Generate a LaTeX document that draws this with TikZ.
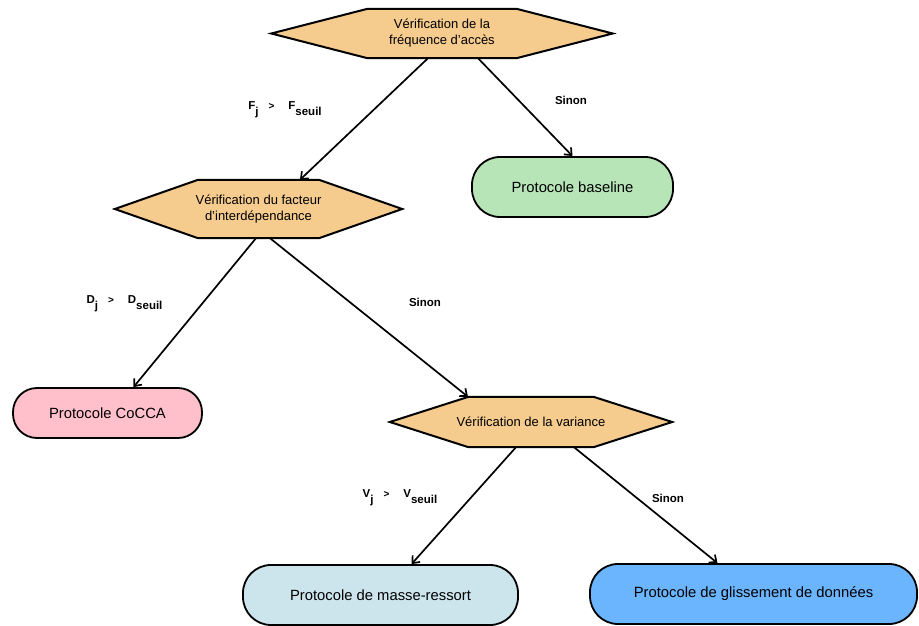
\documentclass[tikz,border=0pt]{standalone}
\usepackage{fontspec}
\setmainfont{Liberation Sans}
\usetikzlibrary{backgrounds,arrows.meta}
\definecolor{hexc}{HTML}{F5CB8E}
\definecolor{greenc}{HTML}{B8E5B8}
\definecolor{pinkc}{HTML}{FFC0CB}
\definecolor{lbluec}{HTML}{CCE4EB}
\definecolor{bluec}{HTML}{6BB5FF}
\newcommand\hexoutline[2]{%
  \begin{pgfonlayer}{background}
  \draw[hexshape] (#1.west) -- ([xshift=-#2pt]#1.north) -- ([xshift=#2pt]#1.north) -- (#1.east)
     -- ([xshift=#2pt]#1.south) -- ([xshift=-#2pt]#1.south) -- cycle;
  \end{pgfonlayer}}
\newcommand\condlab[2]{\textbf{#1\raisebox{-6pt}{j}\hspace{10pt}{\fontsize{10}{10}\selectfont >}\hspace{14pt}#2\raisebox{-6pt}{seuil}}}
\begin{document}
\begin{tikzpicture}[x=1pt,y=-1pt,
  hexnode/.style={draw=none, inner sep=0pt, align=center, font=\fontsize{13}{16}\selectfont},
  hexshape/.style={draw=black, fill=hexc, line width=2pt},
  protobox/.style={draw=black, line width=1.8pt, rounded corners=28pt, inner sep=0pt, align=center, font=\fontsize{14.8}{17}\selectfont},
  arr/.style={line width=1.7pt, -{Straight Barb[length=6pt,width=10pt,line width=1.7pt]}},
  lbl/.style={font=\bfseries\fontsize{11.5}{13}\selectfont, inner sep=0pt}]
\useasboundingbox (0,0) rectangle (919,626);

% decision hexagons
\node[hexnode, minimum width=341pt, minimum height=49pt] (h1) at (442,33.5) {Vérification de la\\fréquence d'accès};
\hexoutline{h1}{74.5}
\node[hexnode, minimum width=287pt, minimum height=58pt] (h2) at (258.5,209) {Vérification du facteur\\d'interdépendance};
\hexoutline{h2}{60.5}
\node[hexnode, minimum width=282pt, minimum height=50pt] (h3) at (531,422) {Vérification de la variance};
\hexoutline{h3}{62.5}

% protocols
\node[protobox, fill=greenc, minimum width=201pt, minimum height=60pt] (b1) at (572.5,187) {Protocole baseline};
\node[protobox, fill=pinkc, rounded corners=24pt, minimum width=189pt, minimum height=50pt] (b2) at (107.5,413) {Protocole CoCCA};
\node[protobox, fill=lbluec, minimum width=275pt, minimum height=60pt] (b3) at (380.5,595) {Protocole de masse-ressort};
\node[protobox, fill=bluec, minimum width=327pt, minimum height=60pt] (b4) at (753.5,594) {Protocole de glissement de données};

% connectors
\draw[arr] ([xshift=-14pt]h1.south) -- ([xshift=41.5pt]h2.north);
\draw[arr] ([xshift=36pt]h1.south) -- (b1.north);
\draw[arr] ([xshift=-2.5pt]h2.south) -- ([xshift=26pt]b2.north);
\draw[arr] ([xshift=11.5pt]h2.south) -- ([xshift=-63pt]h3.north);
\draw[arr] ([xshift=-15pt]h3.south) -- ([xshift=31pt]b3.north);
\draw[arr] ([xshift=43pt]h3.south) -- ([xshift=-36pt]b4.north);

% labels
\node[lbl] (l1) at (285,110) {\condlab{F}{F}};
\node[lbl] (s1) at (571,100) {Sinon};
\node[lbl] (l2) at (124.5,304) {\condlab{D}{D}};
\node[lbl] (s2) at (425,302) {Sinon};
\node[lbl] (l3) at (400,498) {\condlab{V}{V}};
\node[lbl] (s3) at (668,498) {Sinon};
\end{tikzpicture}
\end{document}
